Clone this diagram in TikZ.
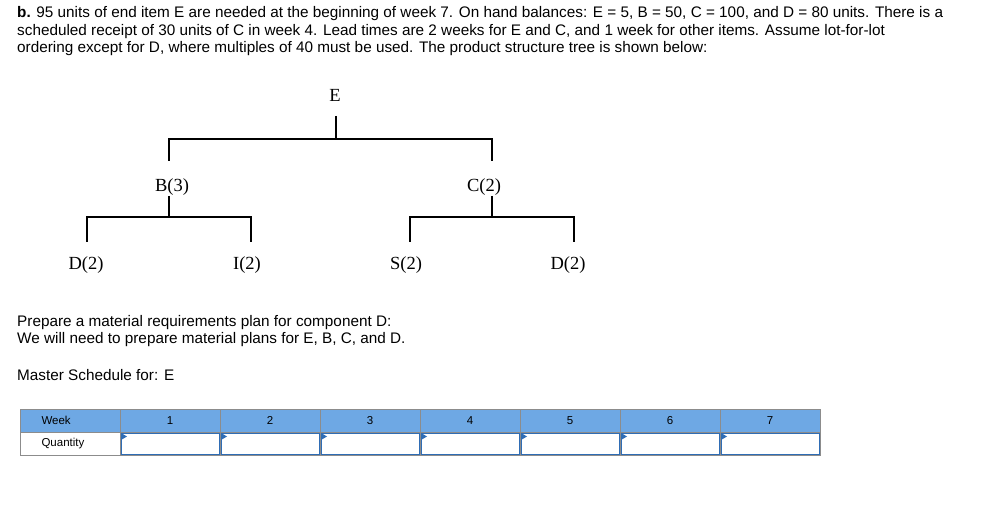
\documentclass[tikz,border=0pt]{standalone}
\usepackage{fontspec}
\setmainfont{Liberation Sans}
\newfontfamily\treefont{Liberation Serif}
\begin{document}
\begin{tikzpicture}[x=1pt,y=-1pt,
  txt/.style={anchor=west,inner sep=0pt,font=\fontsize{15.3}{18}\selectfont},
  tr/.style={inner sep=1pt,font=\treefont\fontsize{18.5}{20}\selectfont},
  ln/.style={line width=1.5pt},
  hd/.style={draw=gray!90,fill=headblue,line width=0.8pt},
  cell/.style={draw=cellblue,line width=1pt},
  tbl/.style={font=\fontsize{11.5}{13}\selectfont}]
\definecolor{headblue}{HTML}{6EA8E4}
\definecolor{cellblue}{HTML}{2F6DB5}
\useasboundingbox (0,0) rectangle (993,529);
\node[txt] (t1) at (17,14) {\textbf{b.} 95 units of end item E are needed at the beginning of week 7. On hand balances: E = 5, B = 50, C = 100, and D = 80 units. There is a};
\node[txt] (t2) at (17,31.5) {scheduled receipt of 30 units of C in week 4. Lead times are 2 weeks for E and C, and 1 week for other items. Assume lot-for-lot};
\node[txt] (t3) at (17,49) {ordering except for D, where multiples of 40 must be used. The product structure tree is shown below:};
% tree
\node[tr] (E) at (335,95) {E};
\node[tr] (B) at (172,187) {B(3)};
\node[tr] (C) at (484,187) {C(2)};
\node[tr] (D1) at (86,265) {D(2)};
\node[tr] (I) at (247,265) {I(2)};
\node[tr] (S) at (406,265) {S(2)};
\node[tr] (D2) at (568,265) {D(2)};
\draw[ln] (336,116) -- (336,139);
\draw[ln] (169,161) |- (492,139) -- (492,161);
\draw[ln] (169,196) -- (169,217);
\draw[ln] (87,242) |- (251,217) -- (251,242);
\draw[ln] (492,196) -- (492,217);
\draw[ln] (410,242) |- (574,217) -- (574,242);
\node[txt] (p1) at (17,322.5) {Prepare a material requirements plan for component D:};
\node[txt] (p2) at (17,339.5) {We will need to prepare material plans for E, B, C, and D.};
\node[txt] (p3) at (17,375) {Master Schedule for: E};
% table
\draw[hd] (20,409) rectangle (120,432);
\node[tbl,anchor=west] (wk) at (38,420.5) {Week};
\draw[draw=gray!90,line width=0.8pt] (20,432) rectangle (120,455);
\node[tbl,anchor=west] (qt) at (38,443.5) {Quantity};
\foreach \i in {1,...,7}{
  \pgfmathsetmacro\xa{20+100*\i}
  \draw[hd] (\xa,409) rectangle (\xa+100,432);
  \node[tbl] (h\i) at (\xa+50,420.5) {\i};
  \draw[draw=gray!90,line width=0.8pt] (\xa,432) rectangle (\xa+100,455);
  \draw[cell] (\xa+1,433) rectangle (\xa+99,454);
  \fill[cellblue] (\xa+1,433) -- (\xa+7,436.5) -- (\xa+1,440) -- cycle;
}
\end{tikzpicture}
\end{document}
